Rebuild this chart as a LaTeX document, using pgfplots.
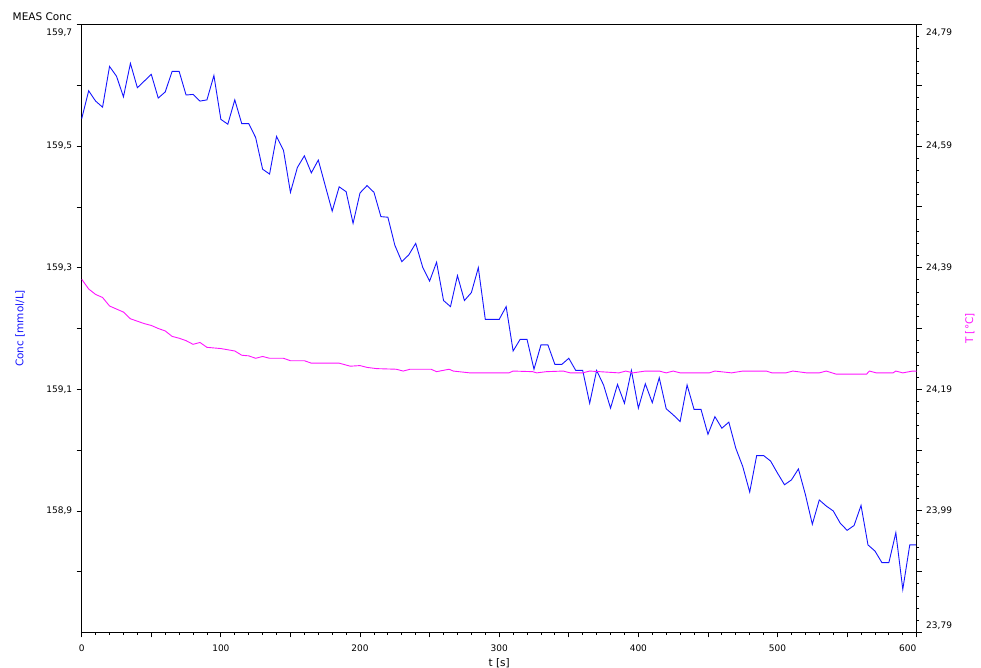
\documentclass[border=0pt]{standalone}
\usepackage{pgfplots}
\pgfplotsset{compat=1.18}
\usepackage{pgfplotstable}
\usepackage{fontspec}
\setmainfont{DejaVu Sans}
\definecolor{cblue}{RGB}{20,20,255}
\definecolor{cmag}{RGB}{255,20,255}

\pgfplotstableread{
t c
0 159.545
5 159.591
10 159.574
15 159.564
20 159.631
25 159.615
30 159.581
35 159.636
40 159.596
45 159.607
50 159.618
55 159.579
60 159.589
65 159.623
70 159.623
75 159.584
80 159.585
85 159.574
90 159.576
95 159.616
100 159.544
105 159.536
110 159.576
115 159.537
120 159.537
125 159.514
130 159.462
135 159.454
140 159.516
145 159.493
150 159.424
155 159.465
160 159.484
165 159.456
170 159.477
175 159.435
180 159.393
185 159.433
190 159.425
195 159.373
200 159.423
205 159.435
210 159.424
215 159.384
220 159.383
225 159.337
230 159.310
235 159.321
240 159.340
245 159.301
250 159.278
255 159.309
260 159.246
265 159.236
270 159.287
275 159.246
280 159.259
285 159.300
290 159.215
295 159.215
300 159.215
305 159.236
310 159.163
315 159.182
320 159.182
325 159.133
330 159.173
335 159.173
340 159.141
345 159.141
350 159.151
355 159.131
360 159.131
365 159.077
370 159.131
375 159.107
380 159.069
385 159.108
390 159.077
395 159.131
400 159.069
405 159.109
410 159.078
415 159.119
420 159.068
425 159.058
430 159.047
435 159.107
440 159.067
445 159.067
450 159.026
455 159.055
460 159.036
465 159.046
470 159.003
475 158.973
480 158.931
485 158.991
490 158.991
495 158.982
500 158.962
505 158.943
510 158.951
515 158.969
520 158.927
525 158.878
530 158.918
535 158.908
540 158.900
545 158.880
550 158.868
555 158.876
560 158.909
565 158.844
570 158.834
575 158.815
580 158.815
585 158.864
590 158.771
595 158.844
600 158.844
}\conc

\pgfplotstableread{
t T
0 24.371
5 24.355
10 24.346
15 24.341
20 24.327
25 24.322
30 24.317
35 24.306
40 24.302
45 24.298
50 24.295
55 24.290
60 24.286
65 24.277
70 24.274
75 24.270
80 24.264
85 24.267
90 24.259
100 24.257
110 24.253
115 24.246
120 24.245
125 24.241
130 24.244
135 24.241
145 24.241
150 24.237
160 24.237
165 24.233
185 24.233
193 24.228
200 24.229
205 24.226
212 24.224
226 24.223
231 24.220
236 24.223
251 24.223
255 24.219
264 24.223
267 24.220
279 24.217
307 24.217
310 24.220
324 24.219
327 24.217
334 24.219
346 24.220
351 24.217
360 24.217
365 24.220
386 24.217
391 24.220
396 24.217
405 24.220
415 24.220
420 24.217
425 24.220
430 24.217
451 24.217
455 24.220
467 24.217
475 24.220
492 24.220
496 24.217
506 24.217
511 24.220
521 24.217
530 24.217
535 24.220
542 24.215
564 24.215
566 24.220
571 24.217
583 24.217
585 24.220
590 24.217
597 24.220
600 24.220
}\temp

\begin{document}
\begin{tikzpicture}
\pgfplotsset{
  every axis/.append style={
    scale only axis, width=835pt, height=608pt,
    xmin=0, xmax=600,
    tick align=outside,
    major tick length=5pt, minor tick length=2.5pt,
    every tick/.style={black, line width=0.8pt},
    ticklabel style={font=\fontsize{9}{10}\selectfont},
    label style={font=\fontsize{10.5}{12}\selectfont},
  },
}
\begin{axis}[
  at={(0,0)}, anchor=south west,
  axis line style={black, line width=0.9pt},
  ymin=158.7, ymax=159.7,
  xtick={0,50,...,600},
  xticklabels={0,,100,,200,,300,,400,,500,,\hbox to 0pt{\hss 600\kern18pt\hss}},
  minor x tick num=4,
  xtick pos=bottom,
  xticklabel style={yshift=-4pt},
  ytick={158.8,158.9,...,159.75},
  yticklabels={,158{,}9,,159{,}1,,159{,}3,,159{,}5,,\raisebox{-8pt}[\height][\depth]{159{,}7}},
  minor y tick num=4,
  ytick pos=left,
  yticklabel style={xshift=-1pt},
  xlabel={t [s]},
  xlabel style={at={(axis description cs:0.5,0)}, anchor=north, yshift=-22pt},
  ylabel={Conc [mmol/L]},
  ylabel style={at={(axis description cs:-0.0739,0.5)}, anchor=center, color=cblue},
  clip=false,
]
\addplot[cblue, line width=0.9pt, mark=none] table[x=t, y=c] {\conc};
\draw[black, line width=0.9pt] (rel axis cs:0,1) -- (rel axis cs:1,1);
\node[anchor=east, font=\fontsize{10.5}{12}\selectfont, inner sep=0pt] at (rel axis cs:0,1) [xshift=-9.7pt, yshift=8pt] {MEAS Conc};
\end{axis}
\begin{axis}[
  at={(0,0)}, anchor=south west,
  axis x line=none,
  axis y line*=right,
  axis line style={black, line width=0.9pt, -},
  ymin=23.79, ymax=24.79,
  ytick={23.79,23.89,...,24.8},
  yticklabels={\raisebox{7pt}[\height][\depth]{23{,}79},,23{,}99,,24{,}19,,24{,}39,,24{,}59,,\raisebox{-8pt}[\height][\depth]{24{,}79}},
  minor y tick num=4,
  ylabel={T [°C]},
  ylabel style={at={(axis description cs:1.0635,0.5)}, anchor=center, color=cmag},
  yticklabel style={xshift=1pt},
]
\addplot[cmag, line width=0.9pt, mark=none] table[x=t, y=T] {\temp};
\end{axis}
\pgfresetboundingbox
\path (-81.7pt,-35.5pt) rectangle (899.3pt,632.5pt);
\end{tikzpicture}
\end{document}
